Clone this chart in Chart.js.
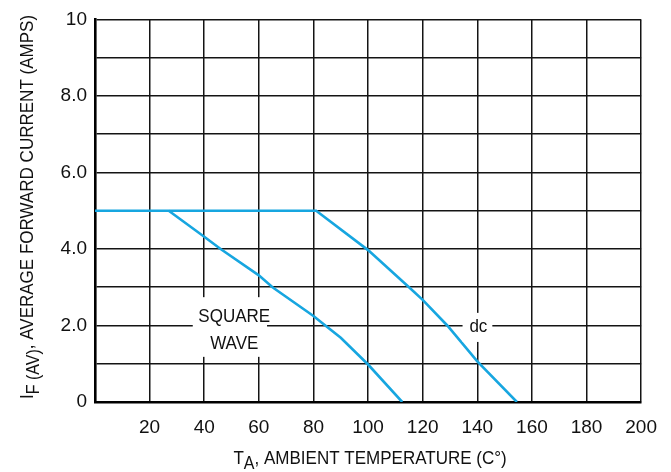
<!DOCTYPE html>
<html>
<head>
<meta charset="utf-8">
<script src="https://cdn.jsdelivr.net/npm/chart.js@4.4.1/dist/chart.umd.min.js"></script>
<style>
  html, body { margin: 0; padding: 0; background: #ffffff; }
  #wrap { width: 671px; height: 472px; }
</style>
</head>
<body>
<div id="wrap"><canvas id="c" width="671" height="472"></canvas></div>
<script>
// ---- data ----
const squareTemp = [27, 40, 46, 60, 65, 80, 84, 90, 100, 112.5];
const squareCurr = [5, 4.32, 4.0, 3.31, 3.0, 2.25, 2.02, 1.68, 0.98, 0];
const dcTemp = [0, 81, 100, 115, 120, 129, 140, 154.5];
const dcCurr = [5, 5, 3.97, 3.0, 2.67, 2.0, 1.06, 0];

const xTickValues = [20, 40, 60, 80, 100, 120, 140, 160, 180, 200];
const yTickValues = [0, 2, 4, 6, 8, 10];
const yTickLabels = ['0', '2.0', '4.0', '6.0', '8.0', '10'];

const seriesNames = ['SQUARE WAVE', 'dc'];

const FONT = '"Liberation Sans", Arial, Helvetica, sans-serif';
const TICKFONT = '"Liberation Sans Narrow", "Liberation Sans", Arial, sans-serif';
const BLUE = '#17a6e0';
const GRID = '#141414';
const SX = 0.915; // horizontal squeeze of the condensed lettering

function toPts(xs, ys) { return xs.map((x, i) => ({ x: x, y: ys[i] })); }

// draw a sequence of [text, font, baselineOffset] pieces centred at (cx, by), squeezed horizontally
function drawPieces(ctx, pieces, cx, by) {
  let total = 0;
  pieces.forEach(p => { ctx.font = p[1]; total += ctx.measureText(p[0]).width; });
  ctx.save();
  ctx.translate(cx, by);
  ctx.scale(SX, 1);
  let x = -total / 2;
  ctx.textAlign = 'left';
  ctx.textBaseline = 'alphabetic';
  pieces.forEach(p => { ctx.font = p[1]; ctx.fillText(p[0], x, p[2]); x += ctx.measureText(p[0]).width; });
  ctx.restore();
}

const labelPlugin = {
  id: 'labels',
  afterDraw(chart) {
    const ctx = chart.ctx;
    const xs = chart.scales.x, ys = chart.scales.y;
    const mainF = '18.6px ' + FONT, subF = '17.5px ' + FONT;
    ctx.save();
    // SQUARE WAVE label box
    let x0 = xs.getPixelForValue(35.8), x1 = xs.getPixelForValue(63);
    let y0 = ys.getPixelForValue(2.74), y1 = ys.getPixelForValue(1.18);
    ctx.fillStyle = '#ffffff';
    ctx.fillRect(x0, y0, x1 - x0, y1 - y0);
    ctx.fillStyle = '#111';
    const cx = xs.getPixelForValue(51);
    const parts = seriesNames[0].split(' ');
    drawPieces(ctx, [[parts[0], mainF, 0]], cx, ys.getPixelForValue(2.28) + 7);
    drawPieces(ctx, [[parts[1], mainF, 0]], cx, ys.getPixelForValue(1.58) + 7);
    // dc label box
    x0 = xs.getPixelForValue(134.6); x1 = xs.getPixelForValue(145.5);
    y0 = ys.getPixelForValue(2.33); y1 = ys.getPixelForValue(1.57);
    ctx.fillStyle = '#ffffff';
    ctx.fillRect(x0, y0, x1 - x0, y1 - y0);
    ctx.fillStyle = '#111';
    drawPieces(ctx, [[seriesNames[1], mainF, 0]], xs.getPixelForValue(140.4), ys.getPixelForValue(2.0) + 7);

    // X axis title with subscript
    const xc = (chart.chartArea.left + chart.chartArea.right) / 2 + 2;
    drawPieces(ctx, [['T', mainF, 0], ['A', subF, 4.5], [', AMBIENT TEMPERATURE (C\u00B0)', mainF, 0]], xc, 464);

    // Y axis title rotated with subscript
    ctx.save();
    ctx.translate(33, 207);
    ctx.rotate(-Math.PI / 2);
    drawPieces(ctx, [['I', mainF, 0], ['F (AV)', subF, 5.5], [', AVERAGE FORWARD CURRENT (AMPS)', mainF, 0]], 0, 0);
    ctx.restore();

    ctx.restore();
  }
};

new Chart(document.getElementById('c'), {
  type: 'line',
  data: {
    datasets: [
      { label: seriesNames[0], data: toPts(squareTemp, squareCurr), borderColor: BLUE, borderWidth: 2.6, pointRadius: 0, tension: 0, fill: false },
      { label: seriesNames[1], data: toPts(dcTemp, dcCurr), borderColor: BLUE, borderWidth: 2.6, pointRadius: 0, tension: 0, fill: false }
    ]
  },
  options: {
    responsive: false,
    animation: false,
    layout: { padding: { top: 18, right: 29, left: 0, bottom: 0 } },
    plugins: { legend: { display: false }, tooltip: { enabled: false } },
    scales: {
      x: {
        type: 'linear', min: 0, max: 200,
        afterFit(s) { s.height = 70; },
        afterBuildTicks(s) { s.ticks = [0].concat(xTickValues).map(v => ({ value: v })); },
        ticks: {
          autoSkip: false, maxRotation: 0, padding: 14, color: '#111',
          font: { family: TICKFONT, size: 19 },
          callback: v => (xTickValues.includes(v) ? String(v) : '')
        },
        grid: { color: GRID, lineWidth: 1.5, drawTicks: false },
        border: { display: true, color: '#000', width: 2.6 }
      },
      y: {
        type: 'linear', min: 0, max: 10,
        afterFit(s) { s.width = 95; },
        ticks: {
          stepSize: 1, autoSkip: false, padding: 8, color: '#111',
          font: { family: TICKFONT, size: 19 },
          callback: v => { const i = yTickValues.indexOf(v); return i >= 0 ? yTickLabels[i] : ''; }
        },
        grid: { color: GRID, lineWidth: 1.5, drawTicks: false },
        border: { display: true, color: '#000', width: 2.6 }
      }
    }
  },
  plugins: [labelPlugin]
});
</script>
</body>
</html>
